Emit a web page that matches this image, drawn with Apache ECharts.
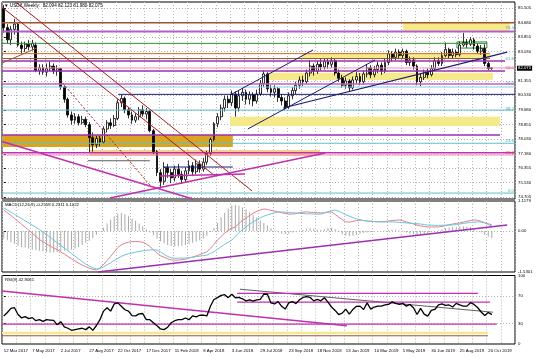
<!DOCTYPE html>
<html><head><meta charset="utf-8">
<script src="https://cdn.jsdelivr.net/npm/echarts@6/dist/echarts.min.js"></script>
<style>html,body{margin:0;padding:0;background:#fff}#c{width:536px;height:358px}</style>
</head><body><div id="c"></div>
<script>
// ---------- data ----------
const tickLabels = ['12 Mar 2017','7 May 2017','2 Jul 2017','27 Aug 2017','22 Oct 2017','17 Dec 2017','11 Feb 2018','8 Apr 2018','3 Jun 2018','29 Jul 2018','23 Sep 2018','18 Nov 2018','13 Jan 2019','10 Mar 2019','5 May 2019','30 Jun 2019','25 Aug 2019','20 Oct 2019'];
const priceTicks = [85.505,84.680,83.855,83.030,81.355,80.530,79.680,78.855,78.030,77.180,76.355,75.530,74.705];
const macdTicks = [1.1179,0,-1.5301];
const rsiTicks = [100,70,30,0];
const lastPrice = 82.075;

const opens = [
85.50,84.40,83.70,84.30,84.60,83.40,83.20,83.45,83.30,83.40,
81.95,82.10,81.85,82.05,82.20,81.90,82.05,81.00,80.30,79.40,
79.10,79.30,78.95,79.15,78.85,78.10,77.70,78.05,77.85,78.60,
78.95,78.80,79.20,80.10,80.35,79.70,79.40,79.10,79.30,79.70,
79.45,79.60,78.50,77.30,76.10,75.60,76.40,76.10,75.80,76.30,
76.00,75.70,76.20,76.50,76.15,76.60,76.30,76.70,77.20,78.00,
78.90,79.30,79.80,80.30,80.10,80.60,79.80,80.50,80.70,80.30,
80.55,80.20,80.60,81.20,81.75,80.90,80.70,80.90,80.40,80.20,
79.85,80.50,80.80,81.10,81.40,81.30,81.80,82.20,81.90,82.30,
82.15,82.45,82.30,82.50,81.80,81.50,81.10,81.35,80.95,81.40,
81.60,81.30,81.75,82.10,81.70,82.00,82.25,81.90,82.40,82.90,
82.70,83.00,82.80,83.05,82.40,82.55,82.20,81.30,81.55,81.85,
81.70,82.05,82.50,82.35,82.80,83.15,82.80,83.00,82.85,83.40,
83.55,83.45,83.70,83.35,83.05,83.20,82.35,82.094];
const closes = [
84.40,83.70,84.30,84.60,83.40,83.20,83.45,83.30,83.50,81.95,
82.10,81.85,82.05,82.20,81.90,82.05,81.00,80.30,79.40,79.10,
79.30,78.95,79.15,78.85,78.10,77.70,78.05,77.85,78.60,78.95,
78.80,79.20,80.10,80.35,79.70,79.40,79.10,79.30,79.70,79.45,
79.60,78.50,77.30,76.10,75.60,76.40,76.10,75.80,76.30,76.00,
75.70,76.20,76.50,76.15,76.60,76.30,76.70,77.20,78.00,78.90,
79.30,79.80,80.30,80.10,80.60,79.80,80.50,80.70,80.30,80.55,
80.20,80.60,81.20,81.75,80.90,80.70,80.90,80.40,80.20,79.85,
80.50,80.80,81.10,81.40,81.30,81.80,82.20,81.90,82.30,82.15,
82.45,82.30,82.50,81.80,81.50,81.10,81.35,80.95,81.40,81.60,
81.30,81.75,82.10,81.70,82.00,82.25,81.90,82.40,82.90,82.70,
83.00,82.80,83.05,82.40,82.55,82.20,81.30,81.55,81.85,81.70,
82.05,82.50,82.35,82.80,83.15,82.80,83.00,82.85,83.40,83.55,
83.45,83.70,83.35,83.05,83.20,82.35,82.05,82.075];
const lows = [
84.10,83.50,83.40,84.00,83.30,82.90,83.00,83.10,83.10,81.85,
81.70,81.70,81.60,81.90,81.75,81.65,80.85,80.10,79.25,78.85,
78.90,78.80,78.85,78.70,77.25,77.30,77.50,77.60,77.75,78.40,
78.60,78.70,79.10,79.85,79.50,79.20,78.90,78.95,79.10,79.30,
79.15,78.40,77.15,75.90,75.20,75.40,75.80,75.50,75.60,75.80,
75.45,75.55,76.00,75.90,76.00,76.10,76.15,76.55,77.05,77.90,
78.70,79.10,79.60,79.80,79.90,79.30,79.60,80.20,80.00,80.00,
79.90,80.05,80.50,81.00,80.70,80.45,80.40,80.15,79.95,79.70,
79.75,80.30,80.60,80.90,81.05,81.20,81.60,81.65,81.75,81.95,
82.00,82.05,82.10,81.65,81.30,80.95,80.90,80.75,80.85,81.20,
81.10,81.15,81.55,81.50,81.55,81.80,81.70,81.80,82.25,82.45,
82.55,82.60,82.60,82.25,82.20,82.00,81.10,81.05,81.40,81.50,
81.60,81.90,82.20,82.20,82.70,82.60,82.65,82.70,82.75,83.30,
83.25,83.35,83.15,82.90,82.85,82.20,81.95,81.980];
const highs = [
85.70,84.60,84.50,84.90,84.70,83.60,83.60,83.70,83.70,83.55,
82.30,82.30,82.35,82.45,82.35,82.25,82.10,81.10,80.40,79.60,
79.50,79.45,79.35,79.30,79.00,78.40,78.20,78.20,78.75,79.10,
79.20,79.40,80.30,80.55,80.45,79.85,79.60,79.50,79.85,79.95,
79.80,79.70,78.60,77.40,76.30,76.70,76.60,76.30,76.50,76.60,
76.20,76.40,76.80,76.70,76.85,76.80,76.95,77.35,78.10,79.00,
79.50,80.00,80.50,80.50,80.80,80.75,80.80,80.95,80.85,80.75,
80.70,80.85,81.40,81.95,81.85,81.10,81.10,81.00,80.60,80.40,
80.70,81.00,81.30,81.60,81.65,82.00,82.55,82.35,82.50,82.60,
82.65,82.60,82.70,82.60,82.00,81.70,81.55,81.45,81.60,81.85,
81.80,81.95,82.30,82.25,82.20,82.45,82.40,82.60,83.10,83.05,
83.20,83.15,83.20,83.15,82.75,82.70,82.30,81.80,82.00,82.05,
82.25,82.70,82.70,83.00,83.55,83.25,83.20,83.15,83.60,84.10,
83.75,83.85,83.80,83.50,83.40,83.45,82.45,82.123];

const macdHist = [
-0.28,-0.35,-0.42,-0.48,-0.55,-0.60,-0.62,-0.66,-0.70,-0.72,
-0.74,-0.76,-0.78,-0.80,-0.80,-0.78,-0.76,-0.74,-0.72,-0.70,
-0.66,-0.60,-0.52,-0.44,-0.36,-0.26,-0.14,-0.02,
0.12,0.28,0.42,0.55,0.64,0.67,0.62,0.55,0.46,0.38,0.28,0.18,0.06,
-0.06,-0.16,-0.28,-0.38,-0.46,-0.52,-0.56,-0.58,-0.57,-0.55,-0.52,-0.48,-0.44,-0.40,-0.35,-0.28,-0.18,-0.04,
0.12,0.30,0.50,0.68,0.84,0.95,0.97,0.94,0.88,0.80,0.70,0.60,0.50,0.40,0.30,0.20,0.10,0.02,
-0.05,-0.10,-0.12,-0.10,-0.06,-0.02,0.02,0.05,0.08,0.10,0.08,0.05,0.04,0.06,0.10,0.12,0.06,-0.04,-0.12,
-0.18,-0.20,-0.18,-0.14,-0.10,-0.08,-0.06,-0.05,-0.04,-0.02,0.00,0.02,0.04,0.05,0.05,
0.03,-0.02,-0.06,-0.10,-0.13,-0.15,-0.14,-0.12,-0.09,-0.05,-0.02,0.02,0.06,0.10,0.13,0.15,0.16,
0.17,0.18,0.17,0.14,0.08,0.01,-0.06,-0.14,-0.22,-0.26];
const macdPink = [
0.78,0.68,0.58,0.47,0.36,0.25,0.14,0.03,-0.08,-0.20,-0.32,
-0.40,-0.48,-0.56,-0.63,-0.70,-0.78,-0.86,-0.95,-1.04,-1.12,-1.20,-1.27,-1.33,-1.39,-1.43,-1.45,
-1.38,-1.25,-1.10,-0.95,-0.78,-0.62,
-0.52,-0.46,-0.42,-0.40,-0.39,-0.40,-0.42,
-0.48,-0.58,-0.70,-0.82,-0.92,-0.98,-1.04,-1.08,
-1.09,-1.09,-1.07,-1.05,-1.01,-0.97,-0.93,-0.88,-0.83,-0.78,
-0.65,-0.50,-0.34,-0.20,-0.08,0.02,0.10,0.15,
0.28,0.40,0.48,0.58,0.66,0.73,0.78,0.82,
0.80,0.77,0.74,0.71,0.68,0.65,0.63,
0.63,0.65,0.68,0.70,0.71,0.70,0.69,0.68,0.67,0.68,0.70,0.71,0.62,
0.52,0.42,0.34,0.33,0.36,0.39,0.41,
0.39,0.37,0.36,0.35,0.34,0.34,0.35,0.37,0.39,0.40,0.41,
0.38,0.34,0.30,0.26,0.22,0.19,0.17,0.15,0.15,0.15,0.15,
0.17,0.20,0.23,0.26,0.28,0.30,0.33,0.36,0.39,0.41,0.40,0.36,0.31,0.27,0.23];
const macdCyan = [
0.86,0.78,0.70,0.62,0.54,0.46,0.38,0.30,0.22,0.14,0.05,-0.04,-0.13,-0.23,-0.34,
-0.44,-0.54,-0.64,-0.74,-0.84,-0.94,-1.04,-1.14,-1.23,-1.31,-1.37,-1.42,
-1.40,-1.34,-1.26,-1.19,-1.10,-1.02,-0.95,-0.89,-0.85,-0.82,
-0.79,-0.76,-0.74,-0.72,-0.71,-0.70,-0.71,
-0.78,-0.87,-0.95,-1.00,-1.02,-1.02,-1.01,-1.01,
-1.00,-0.98,-0.96,-0.94,-0.92,-0.90,
-0.84,-0.77,-0.68,-0.59,-0.50,-0.42,-0.34,
-0.20,-0.06,0.05,0.15,0.25,0.34,0.42,0.49,0.55,0.60,
0.64,0.68,0.71,0.71,0.70,0.69,0.68,0.67,0.66,0.65,0.64,0.64,0.63,0.63,0.63,
0.67,0.72,0.76,0.78,0.74,0.67,0.60,
0.55,0.50,0.45,0.41,0.39,0.37,0.36,0.35,0.35,0.34,0.34,0.34,0.34,
0.33,0.32,0.31,0.30,0.29,0.28,0.27,0.26,0.24,0.22,0.22,0.21,0.21,0.21,0.22,0.22,0.22,
0.24,0.26,0.28,0.30,0.32,0.33,0.34,0.33,0.30,0.24,0.18];
const rsi = [
41,46,52,53,43,38,40,37,38.5,34,
35.5,33,35.5,35,34.5,28,32.5,25,23,20,
21,22,23,21,25,20,27,35.5,48,53,
48,58.5,60,55,50,48,41.5,41,44,44.5,
35.5,35.5,31,26.5,22,21,24.5,31,34,35.5,
35.5,38,35.5,41,39.6,42,42,41,55,65,
67.7,71,72,67.7,72.6,67.5,68,66,63,64.5,
62.7,64.5,65.2,73,72.6,60,58.5,62,55,51,
60,62,59,64.5,68,69,68,63,65,63,
67.5,61,54,49,43,45,51,43.7,50.4,55,
55.3,50.4,60,51,54,55.3,55.3,57,57.8,61.5,
59.3,57.8,59.3,55.3,57.8,52.9,43,52,43.7,40.7,
49,50.4,57,58.5,56.3,57,54,59.3,57,55.3,
55.3,60.3,57.8,53.3,46.7,41.5,46,42.9];

// ---------- annotations (bar index, value) ----------
const COL = {brown:'#a0522d',violet:'#b060c8',green:'#2f8f2f',orange:'#d2691e',purple:'#9b30b0',pink:'#f08cc0',orchid:'#c060c0',sky:'#8ccbe8',navy:'#1c1c78',cyan:'#60c0c8',magenta:'#c030b0',grey:'#606060',red:'#b01818',yellow:'#f6e98a',gold:'#d9a520',lorange:'#f7cf8a',fibc:'#3fa9b5',fibr:'#e04848'};
const L = -0.5, R = 143.5;
const priceLevels = [
  {p:84.68,f:L,t:R,c:'brown',w:1.5},{p:84.18,f:L,t:R,c:'violet',w:2},{p:83.50,f:L,t:135.6,c:'green',w:1},
  {p:82.91,f:L,t:136.5,c:'orange',w:1},{p:82.63,f:L,t:136.5,c:'brown',w:1},{p:82.49,f:L,t:140.7,c:'purple',w:1.5},
  {p:82.09,f:L,t:R,c:'pink',w:1},{p:81.92,f:L,t:140.7,c:'purple',w:1.5},{p:81.17,f:L,t:R,c:'orchid',w:1.5},
  {p:81.00,f:L,t:R,c:'sky',w:1},{p:80.58,f:32.1,t:R,c:'navy',w:1},{p:79.68,f:L,t:R,c:'cyan',w:1},
  {p:78.25,f:L,t:139.3,c:'purple',w:1.5},{p:77.78,f:L,t:R,c:'cyan',w:1},{p:77.24,f:L,t:R,c:'magenta',w:1.5},
  {p:77.11,f:L,t:R,c:'pink',w:1},{p:76.42,f:44.7,t:64.3,c:'navy',w:1},{p:74.93,f:L,t:R,c:'cyan',w:1},
  {p:76.78,f:23.6,t:41.0,c:'grey',w:1}
];
const priceTrends = [
  {a:[3.3,85.866],b:[69.7,75.05],c:'red',w:1},{a:[-0.2,85.52],b:[59.3,75.91],c:'red',w:1},
  {a:[15.8,81.40],b:[41.0,75.39],c:'red',w:1,dash:[2,2]},
  {a:[-0.5,77.88],b:[53.1,74.59],c:'magenta',w:1.5},{a:[29.8,74.65],b:[90.2,77.22],c:'magenta',w:1.5},
  {a:[43.8,75.91],b:[67.7,76.02],c:'magenta',w:1.5},
  {a:[63.5,80.54],b:[86.8,83.12],c:'navy',w:1},{a:[68.5,78.60],b:[104.2,82.55],c:'navy',w:1},
  {a:[78.4,79.80],b:[141.3,83.00],c:'navy',w:1.2},{a:[-0.5,82.37],b:[9.3,83.23],c:'brown',w:1}
];
const priceBands = [
  {p1:84.68,p2:84.22,f:112.1,t:142.1,c:'yellow'},{p1:82.91,p2:82.63,f:83.7,t:136.5,c:'yellow'},
  {p1:81.82,p2:81.40,f:74.2,t:137.3,c:'yellow'},{p1:79.30,p2:78.77,f:63.5,t:139.3,c:'yellow'},
  {p1:78.25,p2:77.57,f:L,t:64.3,c:'gold'},{p1:77.39,p2:77.05,f:24.2,t:88.8,c:'lorange'},
  {p1:83.58,p2:83.23,f:127.2,t:135.6,c:null,edge:'green'}
];
const fibLabels = [
  {t:'76.4',p:84.38,c:'fibc'},{t:'61.8',p:82.60,c:'fibc'},{t:'50.0',p:82.09,c:'fibr'},{t:'50.0',p:81.23,c:'fibc'},
  {t:'38.2',p:79.77,c:'fibc'},{t:'23.6',p:77.91,c:'fibc'},{t:'38.2',p:77.22,c:'fibr'},{t:'0.0',p:75.05,c:'fibc'}
];
const macdTrends = [{a:[26.4,-1.53],b:[141.3,0.22],c:'purple',w:1.5}];
const rsiTrends = [
  {a:[L,77.2],b:[96.3,26.7],c:'magenta',w:1.5},{a:[66.3,80],b:[137.3,46.4],c:'grey',w:1},
  {a:[65.5,74],b:[133.1,74],c:'magenta',w:1.2},{a:[65.5,61],b:[136.5,61],c:'magenta',w:1.2},
  {a:[L,28.9],b:[138.4,28.9],c:'magenta',w:1.2},{a:[L,12],b:[135.9,12],c:'brown',w:1}
];
const rsiBands = [{p1:18,p2:14.5,f:L,t:135.9,c:'yellow'}];

// ---------- chart ----------
const N = 144;
const cats = Array.from({length:N},(_,i)=>String(i));
const FONT = 'Liberation Sans';
const FS = 4.3;
const dotted = {color:'#b4b4b4',type:[1,2],width:1};

function segLayer(list, xi, yi, z){
  return {type:'custom',xAxisIndex:xi,yAxisIndex:yi,z,silent:true,clip:false,
    data:list.map(d=>[d.a[0],d.a[1],d.b[0],d.b[1]]),
    renderItem(params,api){
      const d=list[params.dataIndex];
      const p1=api.coord([api.value(0),api.value(1)]);
      const p2=api.coord([api.value(2),api.value(3)]);
      return {type:'line',shape:{x1:p1[0],y1:p1[1],x2:p2[0],y2:p2[1]},style:{stroke:COL[d.c],lineWidth:d.w||1,lineDash:d.dash||null}};
    }};
}
function bandLayer(list, xi, yi, z){
  return {type:'custom',xAxisIndex:xi,yAxisIndex:yi,z,silent:true,clip:false,
    data:list.map(d=>[d.f,d.p1,d.t,d.p2]),
    renderItem(params,api){
      const d=list[params.dataIndex];
      const p1=api.coord([api.value(0),api.value(1)]);
      const p2=api.coord([api.value(2),api.value(3)]);
      return {type:'rect',shape:{x:Math.min(p1[0],p2[0]),y:Math.min(p1[1],p2[1]),width:Math.abs(p2[0]-p1[0]),height:Math.abs(p2[1]-p1[1])},
        style:{fill:d.c?COL[d.c]:'transparent',stroke:d.edge?COL[d.edge]:null,lineWidth:1}};
    }};
}
function textLayer(list, xi, yi, z){
  return {type:'custom',xAxisIndex:xi,yAxisIndex:yi,z,silent:true,clip:false,
    data:list.map(d=>[d.x,d.p]),
    renderItem(params,api){
      const d=list[params.dataIndex];
      const p=api.coord([api.value(0),api.value(1)]);
      return {type:'text',x:p[0]+(d.dx||0),y:p[1],style:{text:d.t,fill:d.fill||COL[d.c],font:FS+'px '+FONT,align:d.align||'right',verticalAlign:'middle',backgroundColor:d.bg||null,padding:d.bg?[0.5,1]:0}};
    }};
}

const levelSegs = priceLevels.map(l=>({a:[l.f,l.p],b:[l.t,l.p],c:l.c,w:l.w}));
const fibTexts = fibLabels.map(f=>({t:f.t,x:143.2,p:f.p,c:f.c}));
const lastLabel = [{t:lastPrice.toFixed(3),x:R,p:lastPrice,dx:2,align:'left',fill:'#fff',bg:'#000'}];

const grids = [
  {left:2,top:2,width:513,height:197},
  {left:2,top:201,width:513,height:71},
  {left:2,top:275.5,width:513,height:68.5}
].map(g=>Object.assign(g,{show:true,borderColor:'#000',borderWidth:1,backgroundColor:'#fff'}));

const xCat = [0,1,2].map(g=>({type:'category',gridIndex:g,data:cats,boundaryGap:true,
  axisLine:{show:false},axisTick:{show:false},
  axisLabel:{show:g===2,interval:7,align:'left',margin:5,fontSize:FS,fontFamily:FONT,color:'#000',
    formatter:(v,i)=>tickLabels[i/8]||''},
  splitLine:{show:true,interval:3,lineStyle:dotted}}));
const xVal = [0,1,2].map(g=>({type:'value',gridIndex:g,min:L,max:R,show:false}));

function yAx(g,min,max,ticks,labelTicks,fmt){
  return {type:'value',gridIndex:g,min,max,position:'right',
    axisLine:{show:false},
    axisTick:{show:true,length:2,customValues:ticks,lineStyle:{color:'#000'}},
    axisLabel:{show:true,customValues:labelTicks,showMinLabel:true,showMaxLabel:true,margin:3,fontSize:FS,fontFamily:FONT,color:'#000',formatter:fmt},
    splitLine:{show:true,lineStyle:dotted}};
}

const option = {
  animation:false,
  backgroundColor:'#fff',
  title:[
    {text:'\u25BC USDX,Weekly:  82.094 82.123 81.980 82.075',left:4,top:3,padding:0,textStyle:{fontSize:FS+0.3,fontWeight:'normal',fontFamily:FONT,color:'#000'}},
    {text:'MACD(12,26,9) -0.2558 0.2311 0.1022',left:5,top:203,padding:0,textStyle:{fontSize:FS,fontWeight:'normal',fontFamily:FONT,color:'#000'}},
    {text:'RSI(9) 42.9061',left:5,top:277.5,padding:0,textStyle:{fontSize:FS,fontWeight:'normal',fontFamily:FONT,color:'#000'}}
  ],
  grid:grids,
  xAxis:xCat.concat(xVal),
  yAxis:[
    yAx(0,74.59,85.866,priceTicks,priceTicks,v=>v.toFixed(3)),
    Object.assign(yAx(1,-1.5301,1.1179,[0],macdTicks,v=>v===0?'0.00':v.toFixed(4))),
    yAx(2,0,100,[30,70],rsiTicks,v=>String(v))
  ],
  series:[
    bandLayer(priceBands,3,0,1),
    {type:'candlestick',xAxisIndex:0,yAxisIndex:0,z:2,barWidth:2.4,
      data:opens.map((o,i)=>[o,closes[i],lows[i],highs[i]]),
      itemStyle:{color:'#ffffff',color0:'#000000',borderColor:'#000000',borderColor0:'#000000',borderWidth:0.8}},
    segLayer(levelSegs,3,0,3),
    segLayer(priceTrends,3,0,4),
    textLayer(fibTexts,3,0,5),
    textLayer(lastLabel,3,0,6),
    {type:'bar',xAxisIndex:1,yAxisIndex:1,data:macdHist,barWidth:1,itemStyle:{color:'#a9a9a9'},silent:true},
    {type:'line',xAxisIndex:1,yAxisIndex:1,data:macdPink,symbol:'none',lineStyle:{color:'#e07f8c',width:1},silent:true},
    {type:'line',xAxisIndex:1,yAxisIndex:1,data:macdCyan,symbol:'none',lineStyle:{color:'#6cc6d8',width:1},silent:true},
    segLayer(macdTrends,4,1,4),
    bandLayer(rsiBands,5,2,1),
    segLayer(rsiTrends,5,2,3),
    {type:'line',xAxisIndex:2,yAxisIndex:2,data:rsi,symbol:'none',z:5,lineStyle:{color:'#000',width:1.3},silent:true}
  ]
};
const chart = echarts.init(document.getElementById('c'),null,{renderer:'canvas'});
chart.setOption(option);
</script></body></html>
